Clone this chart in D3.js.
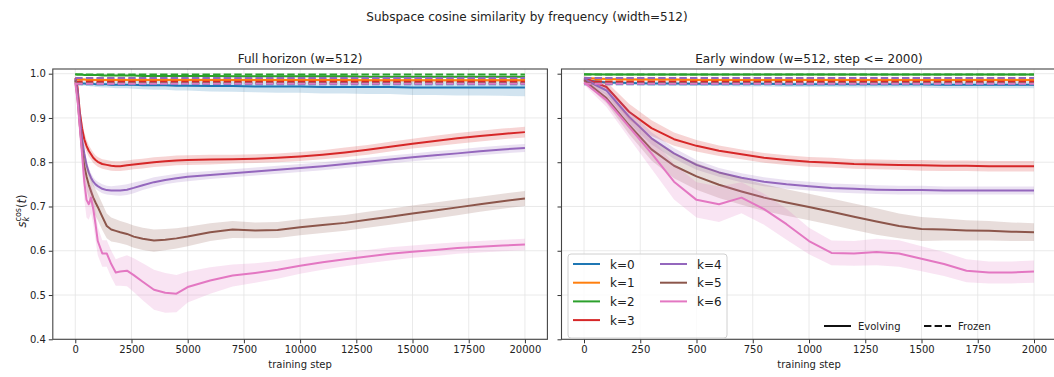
<!DOCTYPE html>
<html>
<head>
<meta charset="utf-8">
<script src="https://cdn.jsdelivr.net/npm/d3@7"></script>
<style>
  body { margin: 0; background: #fff; }
  svg { font-family: "DejaVu Sans", sans-serif; }
</style>
</head>
<body>
<svg id="chart" width="1054" height="377"></svg>
<script>
'use strict';

var kLabels = ['k=0', 'k=1', 'k=2', 'k=3', 'k=4', 'k=5', 'k=6'];
var kColors = ['#1f77b4', '#ff7f0e', '#2ca02c', '#d62728', '#9467bd', '#8c564b', '#e377c2'];

// frozen baseline per k (dashed)
var frozen = [0.976, 0.987, 0.998, 0.982, 0.990, 0.979, 0.977];

// full horizon
var stepsFull = [0, 100, 200, 300, 400, 500, 600, 700, 800, 900, 1000, 1200, 1400, 1600, 1800, 2000, 2300, 2600, 3000, 3500,
  4000, 4500, 5000, 6000, 7000, 8000, 9000, 10000, 11000, 12000, 13000, 14000, 15000, 16000, 17000, 18000, 19000, 20000];

var fullK0 = [0.985, 0.980, 0.979, 0.978, 0.978, 0.977, 0.977, 0.977, 0.977, 0.976, 0.976, 0.976, 0.976, 0.975, 0.975, 0.975, 0.975, 0.975, 0.974, 0.974,
  0.974, 0.973, 0.973, 0.972, 0.972, 0.971, 0.971, 0.971, 0.970, 0.970, 0.970, 0.970, 0.969, 0.969, 0.969, 0.969, 0.969, 0.969];
var fullK1 = [0.990, 0.988, 0.987, 0.987, 0.987, 0.986, 0.986, 0.986, 0.986, 0.986, 0.986, 0.986, 0.986, 0.986, 0.986, 0.986, 0.986, 0.986, 0.986, 0.986,
  0.986, 0.986, 0.986, 0.986, 0.986, 0.986, 0.986, 0.986, 0.986, 0.986, 0.985, 0.985, 0.985, 0.985, 0.985, 0.985, 0.985, 0.985];
var fullK2 = [0.999, 0.998, 0.998, 0.998, 0.997, 0.997, 0.997, 0.997, 0.997, 0.997, 0.997, 0.996, 0.996, 0.996, 0.996, 0.996, 0.996, 0.996, 0.995, 0.995,
  0.995, 0.995, 0.995, 0.995, 0.994, 0.994, 0.994, 0.994, 0.994, 0.994, 0.993, 0.993, 0.993, 0.993, 0.993, 0.993, 0.993, 0.993];
var fullK3 = [0.990, 0.970, 0.914, 0.877, 0.852, 0.837, 0.826, 0.818, 0.810, 0.805, 0.801, 0.796, 0.794, 0.792, 0.791, 0.791, 0.793, 0.795, 0.797, 0.800,
  0.802, 0.804, 0.805, 0.806, 0.807, 0.808, 0.810, 0.813, 0.817, 0.822, 0.828, 0.835, 0.842, 0.848, 0.854, 0.859, 0.864, 0.868];
var fullK4 = [0.988, 0.962, 0.903, 0.854, 0.820, 0.794, 0.777, 0.765, 0.756, 0.750, 0.746, 0.740, 0.737, 0.736, 0.736, 0.736, 0.738, 0.742, 0.748, 0.755,
  0.760, 0.764, 0.767, 0.771, 0.775, 0.779, 0.783, 0.787, 0.791, 0.796, 0.801, 0.806, 0.811, 0.816, 0.820, 0.825, 0.829, 0.832];
var fullK5 = [0.985, 0.945, 0.884, 0.829, 0.792, 0.768, 0.749, 0.734, 0.720, 0.709, 0.699, 0.677, 0.656, 0.648, 0.645, 0.642, 0.638, 0.632, 0.627, 0.623,
  0.625, 0.628, 0.632, 0.642, 0.648, 0.646, 0.647, 0.653, 0.658, 0.663, 0.670, 0.677, 0.684, 0.691, 0.698, 0.705, 0.712, 0.718];
var fullK6 = [0.980, 0.940, 0.880, 0.820, 0.756, 0.715, 0.705, 0.720, 0.694, 0.660, 0.622, 0.594, 0.594, 0.570, 0.551, 0.553, 0.555, 0.545, 0.530, 0.512,
  0.505, 0.503, 0.518, 0.533, 0.544, 0.550, 0.557, 0.566, 0.574, 0.581, 0.587, 0.593, 0.598, 0.602, 0.606, 0.609, 0.612, 0.614];

var fullSd0 = [0.003, 0.004, 0.004, 0.005, 0.005, 0.005, 0.005, 0.006, 0.006, 0.006, 0.006, 0.007, 0.007, 0.007, 0.008, 0.008, 0.008, 0.009, 0.009, 0.010,
  0.010, 0.011, 0.011, 0.012, 0.013, 0.013, 0.014, 0.014, 0.015, 0.015, 0.016, 0.016, 0.017, 0.017, 0.018, 0.018, 0.019, 0.020];
var fullSd1 = stepsFull.map(function () { return 0.003; });
var fullSd2 = stepsFull.map(function () { return 0.002; });
var fullSd3 = [0.004, 0.010, 0.016, 0.018, 0.016, 0.014, 0.013, 0.012, 0.012, 0.011, 0.011, 0.011, 0.011, 0.011, 0.011, 0.011, 0.011, 0.011, 0.011, 0.011,
  0.011, 0.011, 0.011, 0.011, 0.010, 0.010, 0.010, 0.010, 0.010, 0.011, 0.011, 0.011, 0.011, 0.012, 0.012, 0.012, 0.012, 0.012];
var fullSd4 = [0.004, 0.010, 0.014, 0.014, 0.012, 0.011, 0.010, 0.010, 0.010, 0.010, 0.010, 0.010, 0.010, 0.010, 0.011, 0.012, 0.012, 0.012, 0.011, 0.011,
  0.010, 0.010, 0.010, 0.009, 0.009, 0.009, 0.009, 0.009, 0.009, 0.009, 0.009, 0.009, 0.009, 0.009, 0.009, 0.009, 0.009, 0.009];
var fullSd5 = [0.005, 0.012, 0.020, 0.025, 0.028, 0.030, 0.030, 0.030, 0.030, 0.030, 0.030, 0.030, 0.028, 0.027, 0.026, 0.025, 0.025, 0.025, 0.025, 0.025,
  0.024, 0.023, 0.022, 0.020, 0.019, 0.018, 0.018, 0.018, 0.018, 0.018, 0.018, 0.018, 0.018, 0.018, 0.018, 0.017, 0.017, 0.017];
var fullSd6 = [0.005, 0.015, 0.025, 0.035, 0.040, 0.040, 0.035, 0.035, 0.035, 0.035, 0.032, 0.030, 0.030, 0.030, 0.030, 0.032, 0.035, 0.038, 0.042, 0.045,
  0.045, 0.042, 0.035, 0.030, 0.025, 0.022, 0.020, 0.018, 0.017, 0.016, 0.015, 0.015, 0.014, 0.014, 0.013, 0.013, 0.013, 0.013];

// early window
var stepsEarly = [0, 100, 200, 300, 400, 500, 600, 700, 800, 900, 1000, 1100, 1200, 1300, 1400, 1500, 1600, 1700, 1800, 1900, 2000];

var earlyK0 = [0.985, 0.980, 0.979, 0.978, 0.978, 0.977, 0.977, 0.977, 0.977, 0.976, 0.976, 0.976, 0.976, 0.976, 0.976, 0.976, 0.975, 0.975, 0.975, 0.975, 0.975];
var earlyK1 = [0.990, 0.988, 0.987, 0.987, 0.987, 0.986, 0.986, 0.986, 0.986, 0.986, 0.986, 0.986, 0.986, 0.986, 0.986, 0.986, 0.986, 0.986, 0.986, 0.986, 0.986];
var earlyK2 = [0.999, 0.998, 0.998, 0.998, 0.998, 0.998, 0.998, 0.998, 0.998, 0.998, 0.998, 0.998, 0.998, 0.998, 0.998, 0.998, 0.998, 0.998, 0.998, 0.998, 0.998];
var earlyK3 = [0.990, 0.970, 0.914, 0.877, 0.852, 0.837, 0.826, 0.818, 0.810, 0.805, 0.801, 0.799, 0.796, 0.795, 0.794, 0.793, 0.792, 0.792, 0.791, 0.791, 0.791];
var earlyK4 = [0.988, 0.962, 0.903, 0.854, 0.820, 0.794, 0.777, 0.765, 0.756, 0.750, 0.746, 0.742, 0.740, 0.738, 0.737, 0.737, 0.736, 0.736, 0.736, 0.736, 0.736];
var earlyK5 = [0.985, 0.945, 0.884, 0.829, 0.792, 0.768, 0.749, 0.734, 0.720, 0.709, 0.699, 0.688, 0.677, 0.666, 0.656, 0.649, 0.648, 0.646, 0.645, 0.643, 0.642];
var earlyK6 = [0.980, 0.940, 0.880, 0.820, 0.756, 0.715, 0.705, 0.720, 0.694, 0.660, 0.622, 0.595, 0.594, 0.597, 0.594, 0.582, 0.570, 0.555, 0.551, 0.551, 0.553];

var earlySd0 = [0.003, 0.004, 0.004, 0.005, 0.005, 0.005, 0.005, 0.006, 0.006, 0.006, 0.006, 0.006, 0.007, 0.007, 0.007, 0.007, 0.008, 0.008, 0.008, 0.008, 0.008];
var earlySd1 = stepsEarly.map(function () { return 0.003; });
var earlySd2 = stepsEarly.map(function () { return 0.002; });
var earlySd3 = [0.005, 0.012, 0.018, 0.018, 0.015, 0.013, 0.012, 0.011, 0.011, 0.011, 0.011, 0.011, 0.011, 0.011, 0.011, 0.012, 0.012, 0.012, 0.012, 0.012, 0.012];
var earlySd4 = [0.004, 0.010, 0.015, 0.014, 0.012, 0.011, 0.010, 0.010, 0.010, 0.010, 0.010, 0.010, 0.010, 0.010, 0.010, 0.010, 0.009, 0.009, 0.009, 0.009, 0.009];
var earlySd5 = [0.005, 0.012, 0.020, 0.025, 0.028, 0.030, 0.030, 0.030, 0.030, 0.030, 0.030, 0.030, 0.030, 0.030, 0.028, 0.027, 0.025, 0.023, 0.022, 0.021, 0.020];
var earlySd6 = [0.005, 0.015, 0.025, 0.035, 0.040, 0.040, 0.040, 0.035, 0.035, 0.035, 0.030, 0.028, 0.028, 0.030, 0.030, 0.028, 0.027, 0.026, 0.025, 0.025, 0.025];

var yTicks = [0.4, 0.5, 0.6, 0.7, 0.8, 0.9, 1.0];
var xTicksFull = [0, 2500, 5000, 7500, 10000, 12500, 15000, 17500, 20000];
var xTicksEarly = [0, 250, 500, 750, 1000, 1250, 1500, 1750, 2000];

var svg = d3.select('#chart'),
    plotTop = 69,
    plotBottom = 339.3,
    y = d3.scaleLinear().domain([0.4, 1.0106]).range([plotBottom, plotTop]),
    spineColor = '#444',
    gridColor = '#e4e4e4';

svg.append('text').attr('x', 527).attr('y', 21).attr('text-anchor', 'middle')
  .attr('font-size', 12).attr('fill', '#222')
  .text('Subspace cosine similarity by frequency (width=512)');

function drawPanel(opts) {
  var x = d3.scaleLinear().domain(opts.domain).range(opts.range),
      g = svg.append('g'),
      clipId = 'clip-' + opts.id,
      w = opts.range[1] - opts.range[0];

  g.append('clipPath').attr('id', clipId).append('rect')
    .attr('x', opts.range[0]).attr('y', plotTop).attr('width', w).attr('height', plotBottom - plotTop);

  // grid
  g.selectAll('line.gx').data(opts.xTicks).enter().append('line')
    .attr('x1', x).attr('x2', x).attr('y1', plotTop).attr('y2', plotBottom)
    .attr('stroke', gridColor).attr('stroke-width', 0.8);
  g.selectAll('line.gy').data(yTicks).enter().append('line')
    .attr('x1', opts.range[0]).attr('x2', opts.range[1]).attr('y1', y).attr('y2', y)
    .attr('stroke', gridColor).attr('stroke-width', 0.8);

  var plot = g.append('g').attr('clip-path', 'url(#' + clipId + ')');
  var line = d3.line().x(function (d) { return x(d[0]); }).y(function (d) { return y(d[1]); });
  var area = d3.area().x(function (d) { return x(d[0]); })
    .y0(function (d) { return y(d[1] - d[2]); }).y1(function (d) { return y(d[1] + d[2]); });

  opts.means.forEach(function (m, k) {
    var pts = opts.steps.map(function (s, i) { return [s, m[i], opts.sds[k][i]]; });
    plot.append('path').attr('d', area(pts)).attr('fill', kColors[k]).attr('fill-opacity', 0.2);
    plot.append('path').attr('d', line(pts)).attr('fill', 'none').attr('stroke', kColors[k])
      .attr('stroke-width', 2).attr('stroke-linejoin', 'round');
    var ends = [[opts.steps[0], frozen[k]], [opts.steps[opts.steps.length - 1], frozen[k]]];
    plot.append('path').attr('d', line(ends)).attr('fill', 'none').attr('stroke', kColors[k])
      .attr('stroke-width', 2).attr('stroke-dasharray', '7.4,3.2');
  });

  // axes
  var xAxis = g.append('g').attr('transform', 'translate(0,' + plotBottom + ')')
    .call(d3.axisBottom(x).tickValues(opts.xTicks).tickFormat(d3.format('d')).tickSize(4).tickPadding(3));
  var yAxis = g.append('g').attr('transform', 'translate(' + opts.range[0] + ',0)')
    .call(d3.axisLeft(y).tickValues(yTicks).tickFormat(opts.showY ? d3.format('.1f') : '').tickSize(4).tickPadding(3));
  [xAxis, yAxis].forEach(function (a) {
    a.select('.domain').remove();
    a.selectAll('line').attr('stroke', '#333');
    a.selectAll('text').attr('font-size', 10).attr('fill', '#222').attr('font-family', '"DejaVu Sans", sans-serif');
  });

  g.append('rect').attr('x', opts.range[0]).attr('y', plotTop).attr('width', w).attr('height', plotBottom - plotTop)
    .attr('fill', 'none').attr('stroke', spineColor).attr('stroke-width', 1.1);

  g.append('text').attr('x', opts.range[0] + w / 2).attr('y', plotTop - 6).attr('text-anchor', 'middle')
    .attr('font-size', 12).attr('fill', '#222').text(opts.title);
  g.append('text').attr('x', opts.range[0] + w / 2).attr('y', 368).attr('text-anchor', 'middle')
    .attr('font-size', 10).attr('fill', '#222').text('training step');
  return x;
}

drawPanel({
  id: 'full', domain: [-1000, 21000], range: [52.8, 547.4], steps: stepsFull,
  means: [fullK0, fullK1, fullK2, fullK3, fullK4, fullK5, fullK6],
  sds: [fullSd0, fullSd1, fullSd2, fullSd3, fullSd4, fullSd5, fullSd6],
  xTicks: xTicksFull, showY: true, title: 'Full horizon (w=512)'
});

drawPanel({
  id: 'early', domain: [-100, 2100], range: [561.5, 1056.5], steps: stepsEarly,
  means: [earlyK0, earlyK1, earlyK2, earlyK3, earlyK4, earlyK5, earlyK6],
  sds: [earlySd0, earlySd1, earlySd2, earlySd3, earlySd4, earlySd5, earlySd6],
  xTicks: xTicksEarly, showY: false, title: 'Early window (w=512, step <= 2000)'
});

// y label s_k^cos(t)
var yl = svg.append('text').attr('transform', 'translate(26,211) rotate(-90)')
  .attr('text-anchor', 'middle').attr('font-size', 11.5).attr('fill', '#222');
yl.append('tspan').attr('font-style', 'italic').text('s');
yl.append('tspan').attr('font-style', 'italic').attr('font-size', 8).attr('dy', 2.5).text('k');
yl.append('tspan').attr('font-size', 8).attr('dx', -4.5).attr('dy', -8).text('cos');
yl.append('tspan').attr('dy', 5.5).text('(');
yl.append('tspan').attr('font-style', 'italic').text('t');
yl.append('tspan').text(')');

// k legend
var lg = svg.append('g').attr('transform', 'translate(568,254)');
lg.append('rect').attr('width', 159).attr('height', 84).attr('rx', 3)
  .attr('fill', '#fff').attr('fill-opacity', 0.8).attr('stroke', '#d0d0d0');
kLabels.forEach(function (lab, k) {
  var col = k < 4 ? 0 : 1,
      row = k < 4 ? k : k - 4,
      ox = 5 + col * 87,
      oy = 10 + row * 18.7;
  lg.append('line').attr('x1', ox).attr('x2', ox + 27).attr('y1', oy).attr('y2', oy)
    .attr('stroke', kColors[k]).attr('stroke-width', 2);
  lg.append('text').attr('x', ox + 37).attr('y', oy + 4.5).attr('font-size', 12).attr('fill', '#222').text(lab);
});

// style legend
var sl = svg.append('g').attr('transform', 'translate(824,326)');
[['Evolving', null, 0], ['Frozen', '7.4,3.2', 100]].forEach(function (d) {
  sl.append('line').attr('x1', d[2]).attr('x2', d[2] + 27).attr('y1', 0).attr('y2', 0)
    .attr('stroke', '#111').attr('stroke-width', 2).attr('stroke-dasharray', d[1]);
  sl.append('text').attr('x', d[2] + 34).attr('y', 3.5).attr('font-size', 10).attr('fill', '#222').text(d[0]);
});
</script>
</body>
</html>
